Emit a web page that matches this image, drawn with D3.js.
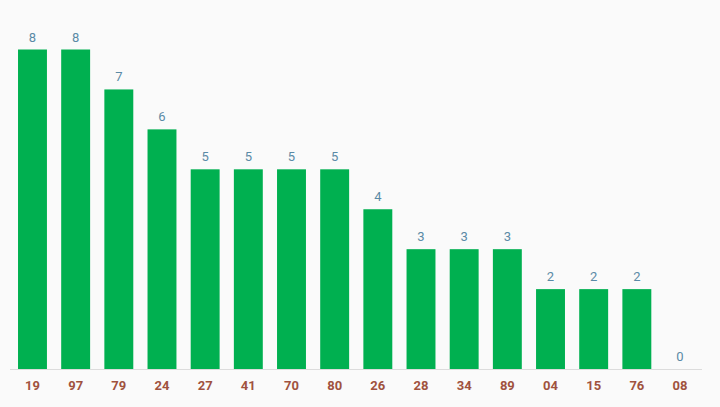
<!DOCTYPE html>
<html><head><meta charset="utf-8">
<script src="https://cdn.jsdelivr.net/npm/d3@7"></script>
<style>body{margin:0;background:#fafafa;font-family:Roboto,sans-serif}</style>
</head><body><div id="chart"></div>
<script>
const categories = ['19','97','79','24','27','41','70','80','26','28','34','89','04','15','76','08'];
const values = [8,8,7,6,5,5,5,5,4,3,3,3,2,2,2,0];

const width = 720, height = 407;
const svg = d3.select('#chart').append('svg').attr('width', width).attr('height', height);

const x = d3.scaleBand().domain(categories).range([10.9, 701.6])
  .paddingInner(0.33).paddingOuter(0.165);
const y = d3.scaleLinear().domain([0, 8]).range([369, 49.5]);

svg.append('line').attr('x1', 10).attr('x2', 702)
  .attr('y1', y(0) + 0.5).attr('y2', y(0) + 0.5).attr('stroke', '#dcdcdc');

svg.selectAll('rect.bar').data(values).enter().append('rect')
  .attr('x', (d, i) => x(categories[i])).attr('width', x.bandwidth())
  .attr('y', d => y(d)).attr('height', d => y(0) - y(d)).attr('fill', '#00b050');

svg.selectAll('text.val').data(values).enter().append('text')
  .attr('x', (d, i) => x(categories[i]) + x.bandwidth() / 2).attr('y', d => y(d) - 8)
  .attr('text-anchor', 'middle').attr('font-size', 13).attr('fill', '#5a8aa6').text(d => d);

svg.selectAll('text.cat').data(categories).enter().append('text')
  .attr('x', d => x(d) + x.bandwidth() / 2).attr('y', 390)
  .attr('text-anchor', 'middle').attr('font-size', 13).attr('font-weight', 'bold')
  .attr('fill', '#a0523e').text(d => d);
</script></body></html>
